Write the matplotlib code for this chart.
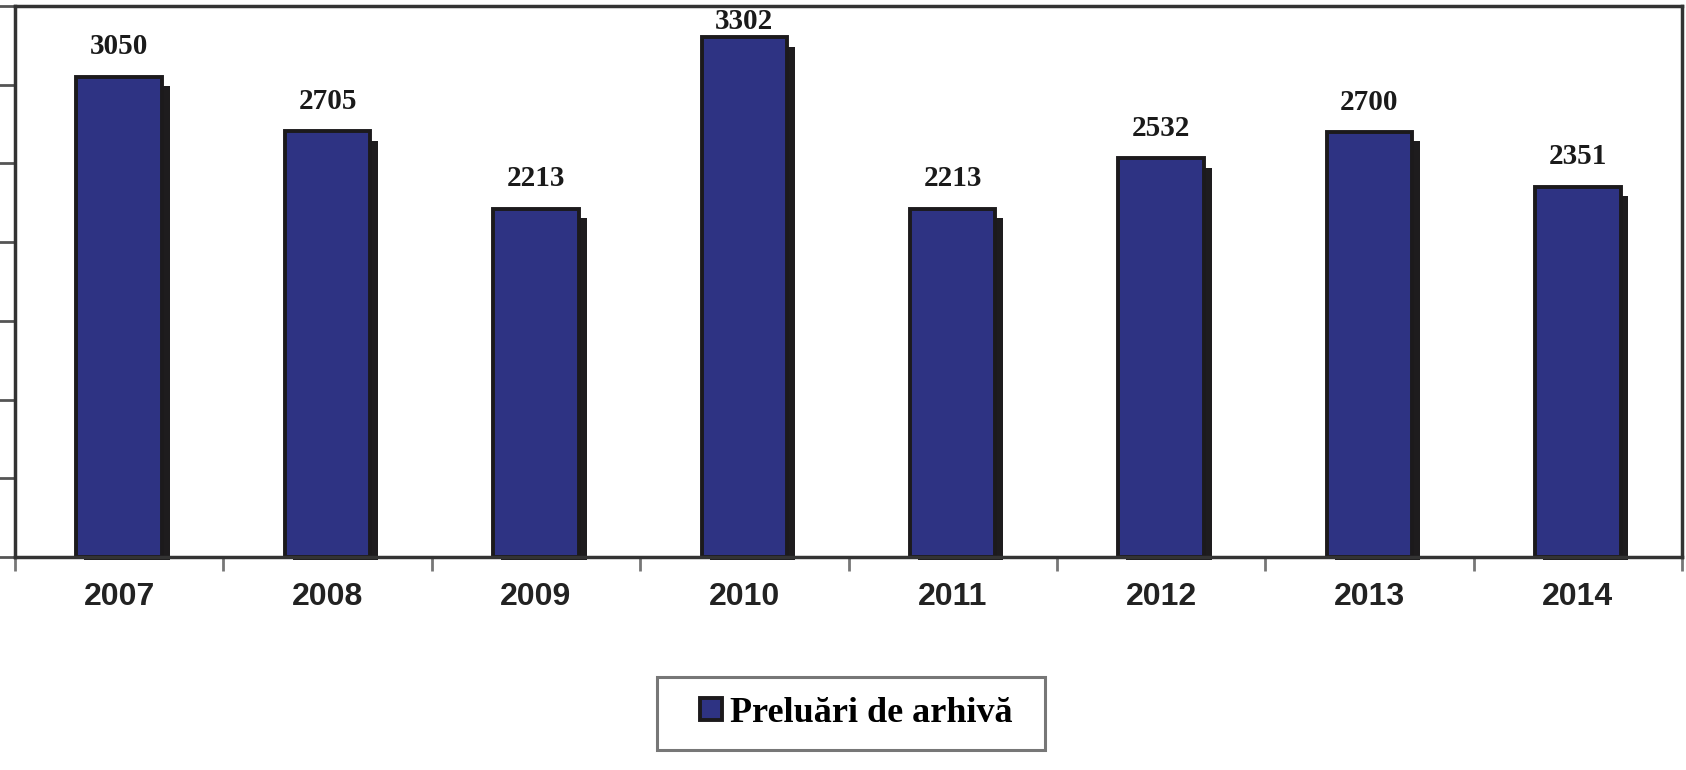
import numpy as np
import matplotlib
matplotlib.use("Agg")
import matplotlib.pyplot as plt
from matplotlib.patches import Patch, Rectangle
from matplotlib.legend_handler import HandlerPatch

years = ["2007", "2008", "2009", "2010", "2011", "2012", "2013", "2014"]
preluari = [3050, 2705, 2213, 3302, 2213, 2532, 2700, 2351]
series_label = "Preluări de arhivă"

BAR_COLOR = "#2e3383"
EDGE = "#1c1a1c"

fig = plt.figure(figsize=(16.86, 7.70), dpi=100)
ax = fig.add_axes([15 / 1686, 1 - 557 / 770, (1682 - 15) / 1686, (557 - 6) / 770])

x = np.arange(len(years))
w = 0.41
# drop shadow behind each bar
ax.bar(x + 0.038, np.array(preluari) - 40, width=w, bottom=-20, color="#1e1c1e",
       zorder=1, clip_on=False)
ax.bar(x, preluari, width=w, color=BAR_COLOR, edgecolor=EDGE, linewidth=2.8, zorder=2)

ymax = 3500
for xi, v in zip(x, preluari):
    yv = min(v + 190, ymax - 100)
    ax.text(xi, yv, str(v), ha="center", va="center", fontsize=21, fontweight="bold",
            family="Liberation Serif", color="#1a1a1a")

ax.set_xlim(-0.5, len(years) - 0.5)
ax.set_ylim(0, ymax)
ax.set_yticks(np.arange(0, ymax + 1, 500))
ax.set_yticklabels([])
ax.tick_params(axis="y", direction="out", length=12, width=2, color="#555555")

ax.set_xticks(x)
ax.set_xticklabels(years, fontsize=23, fontweight="bold", family="Liberation Sans",
                   color="#222222")
ax.tick_params(axis="x", which="major", length=0, pad=18)
ax.set_xticks(np.arange(-0.5, len(years), 1.0), minor=True)
ax.tick_params(axis="x", which="minor", direction="out", length=10, width=2, color="#777777")

for s in ax.spines.values():
    s.set_linewidth(2.5)
    s.set_color("#333333")


# small square sitting at the right end of a wider handle box (extra left padding)
def square_patch(legend, orig_handle, xdescent, ydescent, width, height, fontsize):
    sq = 16
    return Rectangle((width - sq - xdescent, -ydescent + (height - sq) / 2), sq, sq)


leg = fig.legend(handles=[Patch(facecolor=BAR_COLOR, edgecolor=EDGE, linewidth=2.8,
                                label=series_label)],
                 handler_map={Patch: HandlerPatch(patch_func=square_patch)},
                 loc="center", mode="expand",
                 bbox_to_anchor=(657 / 1686, 1 - 749 / 770, 388 / 1686, 72 / 770),
                 prop={"family": "Liberation Serif", "weight": "bold", "size": 26},
                 fancybox=False, shadow=False, handlelength=1.26, handleheight=0.7,
                 handletextpad=0.2, borderpad=0.55, borderaxespad=0)
leg.get_frame().set_edgecolor("#555555")
leg.get_frame().set_linewidth(2.2)

fig.savefig("out.png", dpi=100)
